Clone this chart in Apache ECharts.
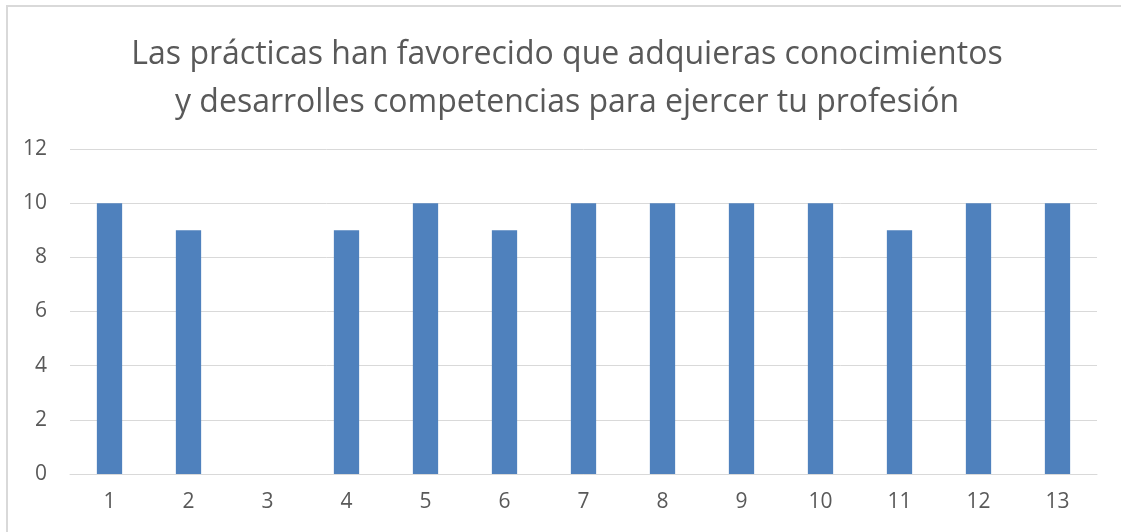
<!DOCTYPE html>
<html>
<head>
<meta charset="utf-8">
<script src="https://cdn.jsdelivr.net/npm/echarts@6/dist/echarts.min.js"></script>
<style>
html,body{margin:0;padding:0;background:#fff;overflow:hidden;}
#frame{position:absolute;left:6px;top:5px;width:1200px;height:600px;border:2px solid #d9d9d9;box-sizing:border-box;}
#chart{position:absolute;left:0;top:0;width:1121px;height:532px;}
</style>
</head>
<body>
<div id="frame"></div>
<div id="chart"></div>
<script>
const titleText = 'Las prácticas han favorecido que adquieras conocimientos\ny desarrolles competencias para ejercer tu profesión';
const categories = ['1','2','3','4','5','6','7','8','9','10','11','12','13'];
const values = [10, 9, 0, 9, 10, 9, 10, 10, 10, 10, 9, 10, 10];
const yTicks = {min: 0, max: 12, interval: 2};

const chart = echarts.init(document.getElementById('chart'), null, {renderer: 'canvas'});
chart.setOption({
  animation: false,
  backgroundColor: 'transparent',
  title: {
    text: titleText,
    left: 562,
    textAlign: 'center',
    top: 26,
    textStyle: {
      fontFamily: 'Open Sans',
      fontSize: 32,
      fontWeight: 'normal',
      color: '#595959',
      lineHeight: 48
    }
  },
  grid: {left: 70, right: 24, top: 149, bottom: 58, containLabel: false},
  xAxis: {
    type: 'category',
    data: categories,
    axisTick: {show: false},
    axisLine: {lineStyle: {color: '#d9d9d9', width: 1}},
    axisLabel: {color: '#595959', fontSize: 21, fontFamily: 'Open Sans', margin: 18}
  },
  yAxis: {
    type: 'value',
    min: yTicks.min, max: yTicks.max, interval: yTicks.interval,
    axisLine: {show: false},
    axisTick: {show: false},
    splitLine: {lineStyle: {color: '#d9d9d9', width: 1}},
    axisLabel: {color: '#595959', fontSize: 21, fontFamily: 'Open Sans', margin: 23}
  },
  series: [{
    type: 'bar',
    data: values,
    barCategoryGap: '68%',
    itemStyle: {color: '#4f81bd'}
  }]
});
</script>
</body>
</html>
